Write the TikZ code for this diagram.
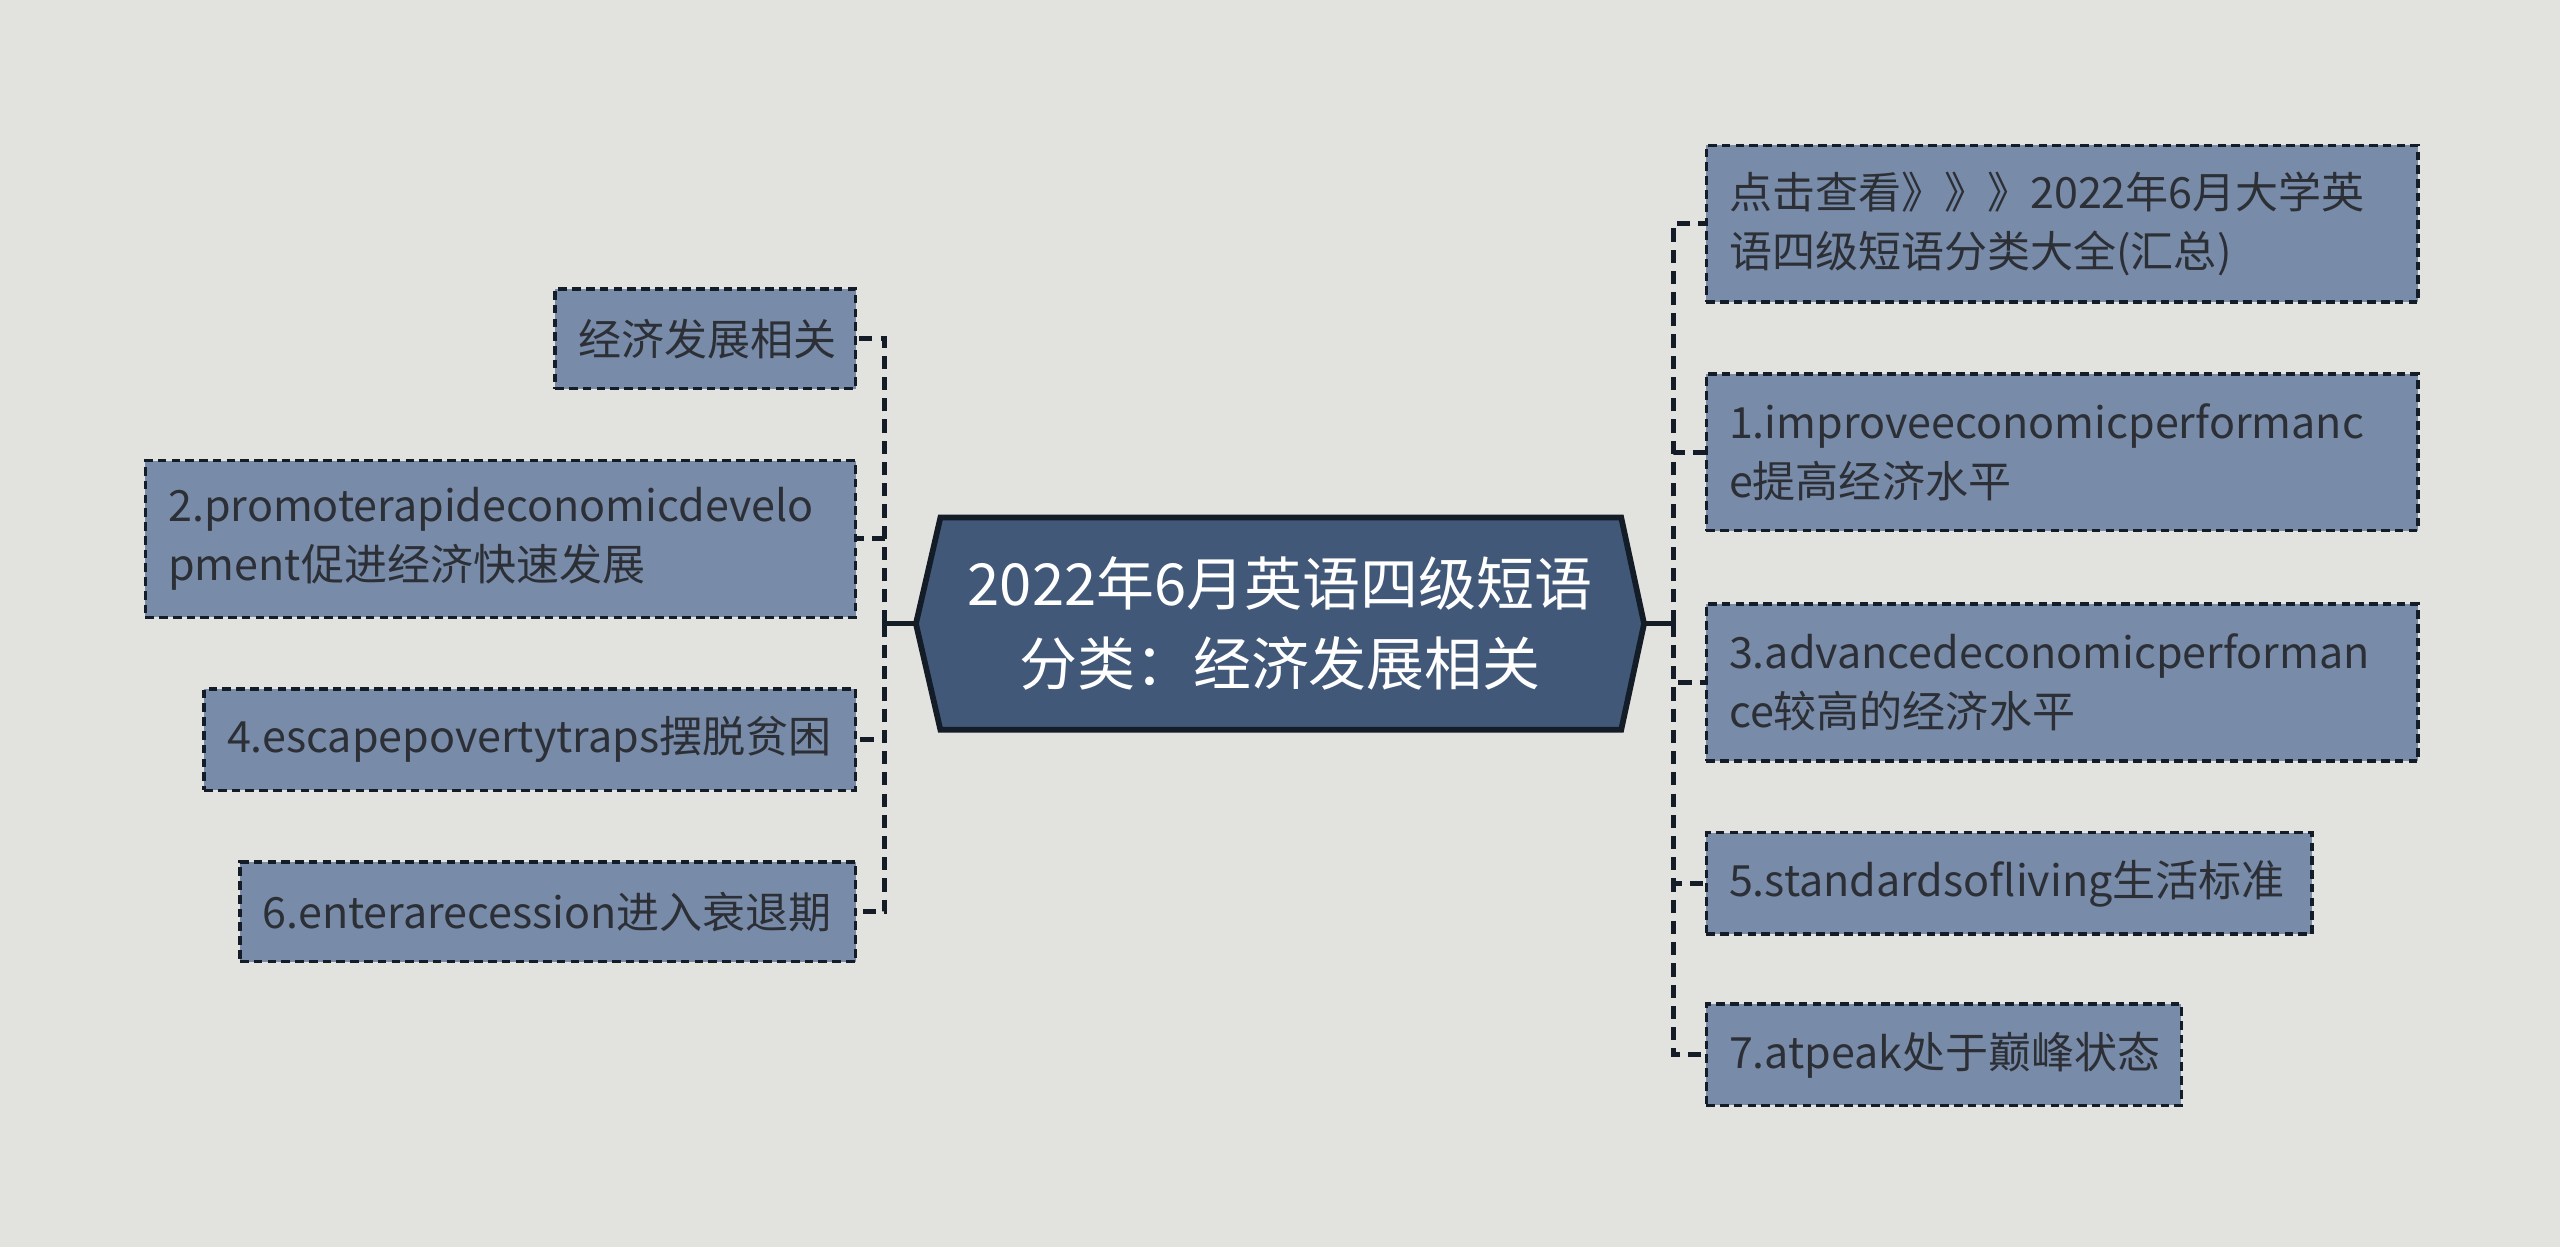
\documentclass[tikz,border=0pt]{standalone}
\usepackage{fontspec}
\newfontfamily\cjk{Noto Sans CJK SC}
\definecolor{bgcol}{HTML}{E2E3DE}
\definecolor{boxcol}{HTML}{788BA8}
\definecolor{rootcol}{HTML}{415878}
\definecolor{linecol}{HTML}{131C27}
\definecolor{txtcol}{HTML}{2C3036}
\tikzset{
  leaf/.style={draw=linecol, fill=boxcol, line width=0.6pt, dash pattern=on 1.5pt off 0.9pt,
    anchor=north west, inner xsep=1.4mm, inner ysep=0pt, align=left, text=txtcol,
    font=\cjk\fontsize{7.5}{10.2}\selectfont},
  link/.style={draw=linecol, line width=0.85pt, dash pattern=on 2.3pt off 1.4pt},
  trunk/.style={draw=linecol, line width=0.9pt},
}
\begin{document}
\hyphenpenalty=10000
\begin{tikzpicture}[x=0.1mm, y=-0.1mm]
\fill[bgcol] (0,0) rectangle (1568,764);
\useasboundingbox (0,0) rectangle (1568,764);

\draw[draw=linecol, line width=1pt, fill=rootcol] (561,382) -- (576,317) -- (993,317) -- (1007,382) -- (993,447) -- (576,447) -- cycle;
\node[inner sep=0pt, text=white, align=center, font=\cjk\fontsize{10.1}{13.9}\selectfont] (root) at (784,382) {2022年6月英语四级短语\\分类：经济发展相关};
\coordinate (rootW) at (561,382);
\coordinate (rootE) at (1007,382);
\coordinate (lt) at (542,382);
\coordinate (rt) at (1025,382);

\node[leaf, text width=15.6mm, minimum height=6.1mm] (L0) at (339,176) {经济发展相关};
\node[leaf, text width=40.7mm, minimum height=9.6mm] (L1) at (88,281) {2.promoterapideconomicdevelo\\pment促进经济快速发展};
\node[leaf, text width=37.1mm, minimum height=6.2mm] (L2) at (124,421) {4.escapepovertytraps摆脱贫困};
\node[leaf, text width=34.9mm, minimum height=6.1mm] (L3) at (146,527) {6.enterarecession进入衰退期};

\node[leaf, text width=40.8mm, minimum height=9.6mm] (R0) at (1044,88) {点击查看》》》2022年6月大学英\\语四级短语分类大全(汇总)};
\node[leaf, text width=40.8mm, minimum height=9.6mm] (R1) at (1044,228) {1.improveeconomicperformanc\\e提高经济水平};
\node[leaf, text width=40.8mm, minimum height=9.6mm] (R2) at (1044,369) {3.advancedeconomicperforman\\ce较高的经济水平};
\node[leaf, text width=34.3mm, minimum height=6.2mm] (R3) at (1044,509) {5.standardsofliving生活标准};
\node[leaf, text width=26.3mm, minimum height=6.2mm] (R4) at (1044,614) {7.atpeak处于巅峰状态};

\draw[trunk] (rootW) -- (lt);
\draw[trunk] ([yshift=0.7mm]lt) -- ([yshift=-0.7mm]lt);
\draw[trunk] (rootE) -- (rt);
\draw[trunk] ([yshift=0.7mm]rt) -- ([yshift=-0.7mm]rt);
\foreach \n in {L0,L1,L2,L3}
  \draw[link] (lt) |- (\n.east);
\foreach \n in {R0,R1,R2,R3,R4}
  \draw[link] (rt) |- (\n.west);
\end{tikzpicture}
\end{document}
